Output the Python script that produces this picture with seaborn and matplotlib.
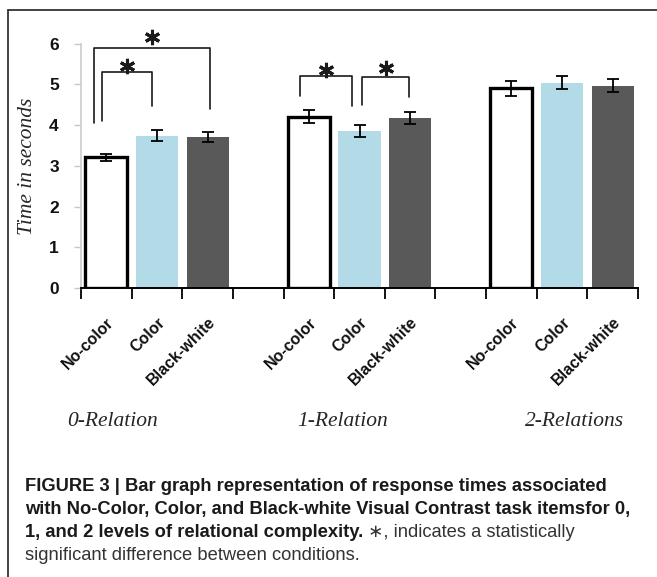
import matplotlib
matplotlib.use("Agg")
import matplotlib.pyplot as plt
from matplotlib.lines import Line2D
import numpy as np
import pandas as pd
import seaborn as sns

# data
groups = ["0-Relation", "1-Relation", "2-Relations"]
conditions = ["No-color", "Color", "Black-white"]
rel0_means = [3.21, 3.74, 3.70]
rel1_means = [4.20, 3.86, 4.17]
rel2_means = [4.90, 5.04, 4.96]
rel0_err = [0.09, 0.13, 0.12]
rel1_err = [0.16, 0.14, 0.15]
rel2_err = [0.18, 0.16, 0.16]

# significance brackets: x ends, top height, leg end heights, star height
bracket_left = [-0.24, -0.09, 3.83, 5.05]
bracket_right = [2.05, 0.90, 4.86, 5.98]
bracket_top = [5.88, 5.29, 5.20, 5.17]
bracket_left_end = [4.05, 4.10, 4.71, 4.49]
bracket_right_end = [4.39, 4.46, 4.46, 4.68]
star_y = [6.15, 5.46, 5.34, 5.39]

palette = {"No-color": "white", "Color": "#b3dbe7", "Black-white": "#595959"}

positions = [4 * g + c for g in range(len(groups)) for c in range(len(conditions))]
df = pd.DataFrame(
    {
        "pos": positions,
        "condition": conditions * len(groups),
        "time": rel0_means + rel1_means + rel2_means,
        "err": rel0_err + rel1_err + rel2_err,
    }
)

sns.set_style("white")
plt.rcParams["font.family"] = ["DejaVu Sans"]

W, H = 657, 577
fig = plt.figure(figsize=(W / 100, H / 100), dpi=100)
ax = fig.add_axes([81 / W, 1 - 288.3 / H, (638 - 81) / W, (288.3 - 43.5) / H])

sns.barplot(
    data=df,
    x="pos",
    y="time",
    hue="condition",
    palette=palette,
    native_scale=True,
    dodge=False,
    width=0.83,
    saturation=1,
    errorbar=None,
    legend=False,
    ax=ax,
)

for p in ax.patches:
    center = p.get_x() + p.get_width() / 2
    idx = int(round(center)) % 4
    if idx == 0:
        p.set_facecolor("white")
        p.set_edgecolor("black")
        p.set_linewidth(2.4)
        p.set_zorder(3)
    else:
        p.set_edgecolor("none")

ax.errorbar(
    df["pos"], df["time"], yerr=df["err"], fmt="none",
    ecolor="black", elinewidth=1.3, capsize=4, capthick=1.3, zorder=4,
)

# brackets and stars
for xl, xr, top, le, re_, sy in zip(
    bracket_left, bracket_right, bracket_top, bracket_left_end, bracket_right_end, star_y
):
    ax.plot([xl, xl, xr, xr], [le, top, top, re_], color="#1a1a1a", lw=1.2,
            clip_on=False, zorder=5)
    ax.plot([(xl + xr) / 2], [sy], marker=(6, 2, 0), markersize=11,
            markeredgewidth=2.2, color="#1a1a1a", clip_on=False, zorder=5)

ax.set_xlim(-0.5, 10.5)
ax.set_ylim(0, 6)
ax.set_yticks(range(7))
ax.set_yticklabels([str(i) for i in range(7)], fontfamily="Liberation Sans",
                   fontweight="bold", fontsize=12.5, color="#111111")

ax.set_xticks(np.arange(-0.5, 11, 1))
ax.set_xticklabels([])
ax.set_xticks(positions, minor=True)
ax.set_xticklabels(conditions * len(groups), minor=True, rotation=45,
                   ha="right", rotation_mode="anchor", fontfamily="Liberation Sans",
                   fontweight="bold", fontsize=11.5, color="#111111")
ax.tick_params(axis="x", which="major", direction="out", length=8, width=1.3,
               color="black", bottom=True)
ax.tick_params(axis="x", which="minor", length=0, pad=19)
ax.tick_params(axis="y", direction="out", length=5, width=1, color="#c8c8c8",
               left=True, pad=11)

for s in ["top", "right"]:
    ax.spines[s].set_visible(False)
ax.spines["left"].set_color("#cccccc")
ax.spines["left"].set_linewidth(1.2)
ax.spines["bottom"].set_color("black")
ax.spines["bottom"].set_linewidth(1.4)
ax.set_xlabel("")
ax.set_ylabel("Time in seconds", fontfamily="Liberation Serif", fontstyle="italic",
              fontsize=15.5)
ax.yaxis.set_label_coords(-44 / (638 - 81), 0.5)

# group labels under the tick labels
group_x = [113, 343, 575]
for gx, name in zip(group_x, groups):
    fig.text(gx / W, 1 - 421 / H, name, ha="center", va="center",
             fontfamily="Liberation Serif", fontstyle="italic", fontsize=15.5)

# outer frame
fig.add_artist(Line2D([8 / W, 8 / W], [0, 1 - 10 / H], color="#333333", lw=1.3))
fig.add_artist(Line2D([8 / W, 1], [1 - 10 / H, 1 - 10 / H], color="#333333", lw=1.3))

# caption
cap_family = ["Liberation Sans", "DejaVu Sans"]
renderer = fig.canvas.get_renderer()
line1 = "FIGURE 3 | Bar graph representation of response times associated"
t = fig.text(25 / W, 1 - 491 / H, line1, fontfamily=cap_family, fontweight="bold",
             fontsize=13, color="#1a1a1a", va="baseline")
w = t.get_window_extent(renderer).width
fs = 13 * 580 / w
t.set_fontsize(fs)

line2 = "with No-Color, Color, and Black-white Visual Contrast task itemsfor 0,"
fig.text(25 / W, 1 - 514 / H, line2, fontfamily=cap_family, fontweight="bold",
         fontsize=fs, color="#1a1a1a", va="baseline")
line3a = "1, and 2 levels of relational complexity."
t3 = fig.text(25 / W, 1 - 537 / H, line3a, fontfamily=cap_family, fontweight="bold",
              fontsize=fs, color="#1a1a1a", va="baseline")
x3 = t3.get_window_extent(renderer).x1
fig.text((x3 + 5) / W, 1 - 537 / H, "\u2217, indicates a statistically",
         fontfamily=cap_family, fontsize=fs, color="#333333", va="baseline")
fig.text(25 / W, 1 - 560 / H, "significant difference between conditions.",
         fontfamily=cap_family, fontsize=fs, color="#333333", va="baseline")

fig.savefig("out.png", dpi=100)
